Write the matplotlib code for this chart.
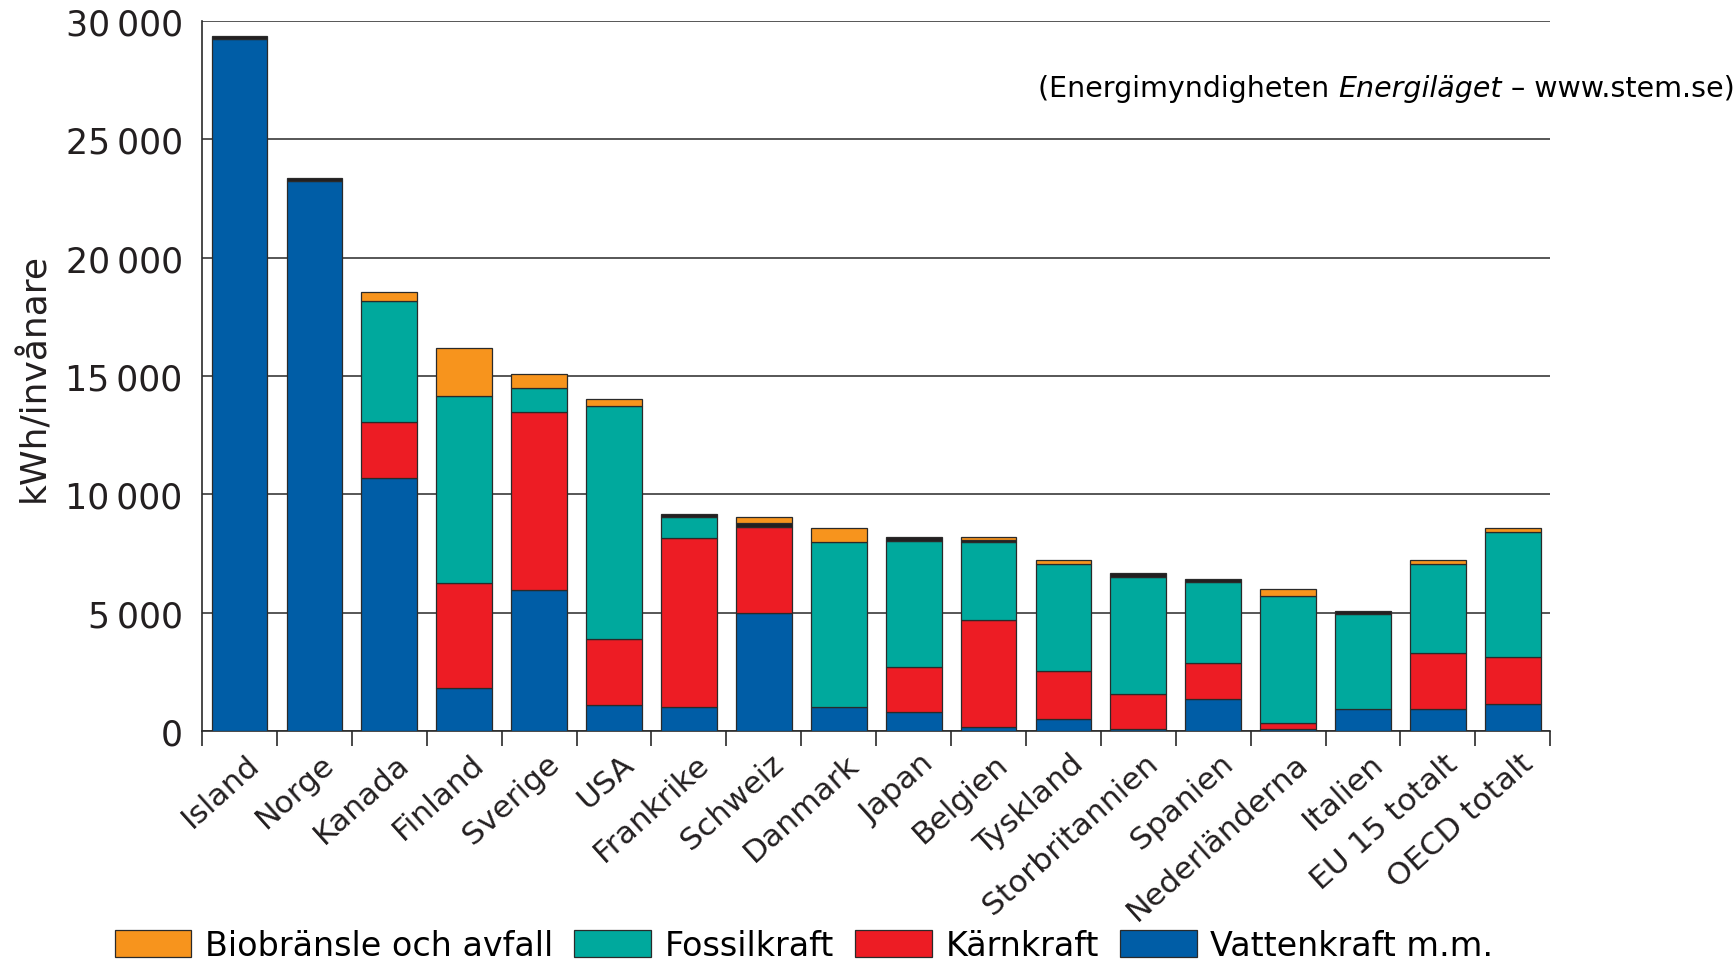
import numpy as np
import matplotlib.pyplot as plt
from matplotlib.patches import Patch
from matplotlib.transforms import ScaledTranslation

countries = ['Island', 'Norge', 'Kanada', 'Finland', 'Sverige', 'USA', 'Frankrike',
             'Schweiz', 'Danmark', 'Japan', 'Belgien', 'Tyskland', 'Storbritannien',
             'Spanien', 'Nederländerna', 'Italien', 'EU 15 totalt', 'OECD totalt']

# kWh per invånare
vatten = [29250, 23250, 10700, 1820, 5980, 1085, 1010, 5000, 1010, 820, 170, 490, 70, 1340, 100, 920, 920, 1160]
karn = [0, 0, 2360, 4440, 7500, 2790, 7150, 3630, 0, 1880, 4545, 2040, 1510, 1520, 225, 0, 2360, 1970]
fossil = [0, 0, 5130, 7910, 1010, 9850, 890, 0, 6970, 5350, 3260, 4530, 4950, 3420, 5400, 4020, 3790, 5280]
ovrigt = [130, 110, 0, 0, 0, 0, 140, 170, 0, 140, 80, 0, 130, 130, 0, 115, 0, 0]
bio = [0, 0, 350, 2010, 600, 310, 0, 235, 620, 0, 130, 180, 0, 0, 265, 0, 180, 190]

series_names = ['Biobränsle och avfall', 'Fossilkraft', 'Kärnkraft', 'Vattenkraft m.m.']
c_bio, c_fossil, c_karn, c_vatten, c_ovr = '#f7941d', '#00a99d', '#ed1c24', '#005da6', '#231f20'
txt = '#231f20'

plt.rcParams['font.family'] = ['DejaVu Sans']

fig = plt.figure(figsize=(17.36, 9.62), dpi=100)
ax = fig.add_axes([0.1164, 0.239, 0.7766, 0.738])

x = np.arange(len(countries))
w = 0.745
edge = dict(edgecolor='#2a2a2a', linewidth=0.9, width=w, zorder=3)
bottom = np.zeros(len(countries))
for vals, col in [(vatten, c_vatten), (karn, c_karn), (fossil, c_fossil), (ovrigt, c_ovr), (bio, c_bio)]:
    vals = np.array(vals, dtype=float)
    m = vals > 0
    ax.bar(x[m], vals[m], bottom=bottom[m], color=col, **edge)
    bottom += vals

ax.set_xlim(-0.5, len(countries) - 0.5)
ax.set_ylim(0, 30000)
yt = np.arange(0, 30001, 5000)
ax.set_yticks(yt)
ax.set_yticklabels([f'{v:,}'.replace(',', '\u2009') for v in yt], fontsize=25, color=txt)
ax.tick_params(axis='y', length=0, pad=14)
ax.yaxis.grid(True, color='#3a3a3a', linewidth=1.2, zorder=0)
ax.set_axisbelow(True)

ax.set_xticks([])
ax.set_xticks(np.arange(-0.5, len(countries)), minor=True)
ax.tick_params(axis='x', which='minor', length=11, width=1.2, color='#2a2a2a', direction='out')
ax.tick_params(axis='x', which='major', length=0)

for s in ['top', 'right']:
    ax.spines[s].set_visible(False)
for s in ['left', 'bottom']:
    ax.spines[s].set_color('#2a2a2a')
    ax.spines[s].set_linewidth(1.2)

lab_tr = ax.get_xaxis_transform() + ScaledTranslation(0.16, -0.28, fig.dpi_scale_trans)
for i, name in enumerate(countries):
    ax.text(i, 0, name, transform=lab_tr, rotation=42, ha='right', va='center',
            rotation_mode='anchor', fontsize=22.5, color=txt)

ax.set_ylabel('kWh/invånare', fontsize=26, color=txt, labelpad=10)

# source note, with the italic title in the middle
t1 = fig.text(0.999, 0.893, ' – www.stem.se)', ha='right', va='bottom', fontsize=20.5)
t2 = ax.annotate('Energiläget', xy=(0, 0), xycoords=t1, ha='right', va='bottom',
                 fontsize=20.5, style='italic', annotation_clip=False)
ax.annotate('(Energimyndigheten ', xy=(0, 0), xycoords=t2, ha='right', va='bottom',
            fontsize=20.5, annotation_clip=False)

handles = [Patch(facecolor=c, edgecolor='#2a2a2a', linewidth=0.9)
           for c in [c_bio, c_fossil, c_karn, c_vatten]]
fig.legend(handles, series_names, loc='center left', bbox_to_anchor=(0.066, 0.016),
           ncol=4, frameon=False, fontsize=24, handlelength=2.3, handleheight=0.85,
           handletextpad=0.4, columnspacing=0.65, borderpad=0, borderaxespad=0)

fig.savefig('out.png', dpi=100)
